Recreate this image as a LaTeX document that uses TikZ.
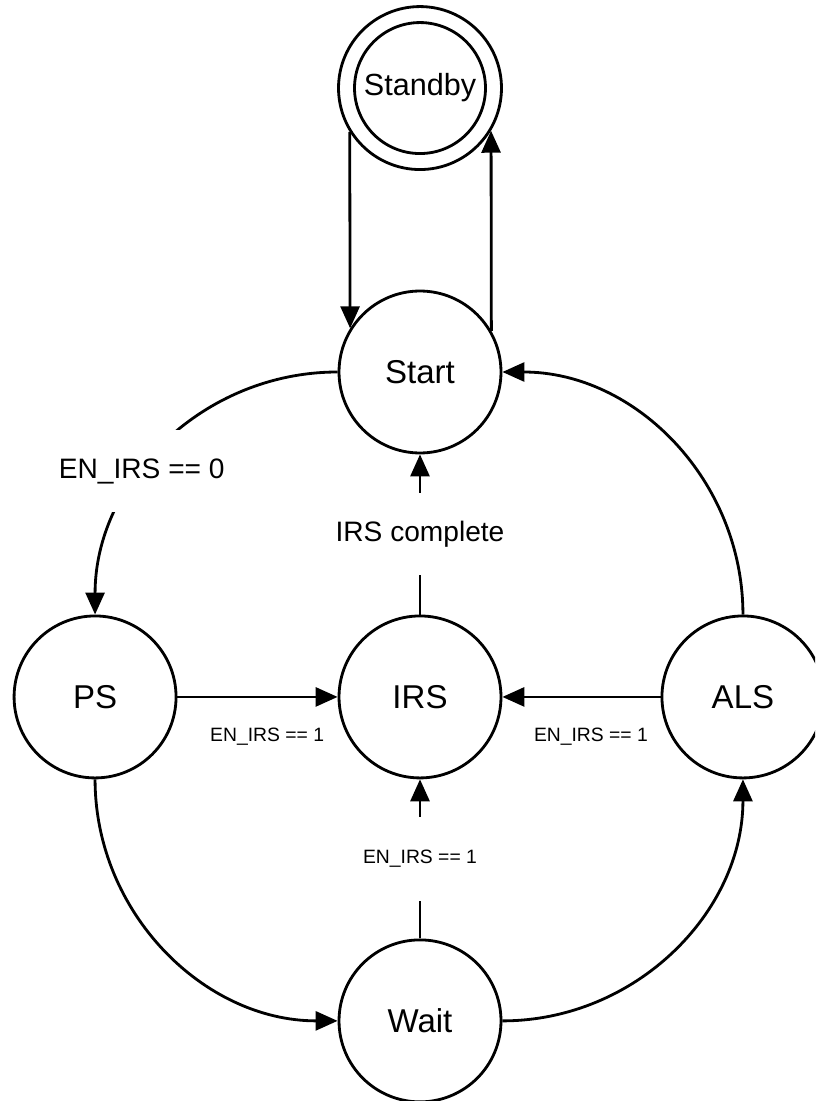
\documentclass[tikz,border=0pt]{standalone}
\usepackage{fontspec}
\setmainfont{Liberation Sans}
\usetikzlibrary{positioning,arrows.meta}

\begin{document}
\begin{tikzpicture}[
    x=0.02cm, y=-0.02cm,
    node distance=6.5cm,
    state/.style={circle, draw, line width=1.6pt, minimum size=3.24cm, inner sep=0pt, font=\fontsize{18.8}{22}\selectfont},
    arrow/.style={-{Triangle[length=0.44cm, width=0.38cm]}, line width=1.6pt},
    cond/.style={fill=white, minimum height=1.64cm, inner xsep=2pt, font=\fontsize{16}{19}\selectfont},
    guard/.style={font=\fontsize{11}{13}\selectfont}
]
    \useasboundingbox (0,0) rectangle (815,1101);
    \clip (0,0) rectangle (815,1101);

    \node[state] (start) at (420,372) {Start};
    \node[state, above of=start, node distance=5.68cm, minimum size=3.26cm] (standby) {};
    \node[state, minimum size=2.62cm, font=\fontsize{17.4}{20}\selectfont] (standbyin) at (standby) {Standby};
    \node[state, below of=start] (irs) {IRS};
    \node[state, left of=irs] (ps) {PS};
    \node[state, right of=irs, node distance=6.46cm] (als) {ALS};
    \node[state, below of=irs, node distance=6.48cm] (wait) {Wait};

    \draw[arrow] (standby.212.7) -- (start.148.4);
    \draw[arrow] (start.30.2) -- (standby.-31.4);

    \draw[arrow] (start.west) to[out=180, in=90] node[cond, pos=0.6] {EN\_IRS == 0} (ps.north);
    \draw[arrow] (irs) -- node[cond] {IRS complete} (start);

    \draw[arrow] (ps) -- node[guard, pos=0.56, yshift=-0.8cm] {EN\_IRS == 1} (irs);
    \draw[arrow] (als) -- node[guard, pos=0.44, yshift=-0.8cm] {EN\_IRS == 1} (irs);
    \draw[arrow] (wait) -- node[guard, fill=white, minimum height=1.68cm] {EN\_IRS == 1} (irs);

    \draw[arrow] (ps.south) to[out=-90, in=180] (wait.west);
    \draw[arrow] (wait.east) to[out=0, in=-90] (als.south);
    \draw[arrow] (als.north) to[out=90, in=0] (start.east);
\end{tikzpicture}
\end{document}
